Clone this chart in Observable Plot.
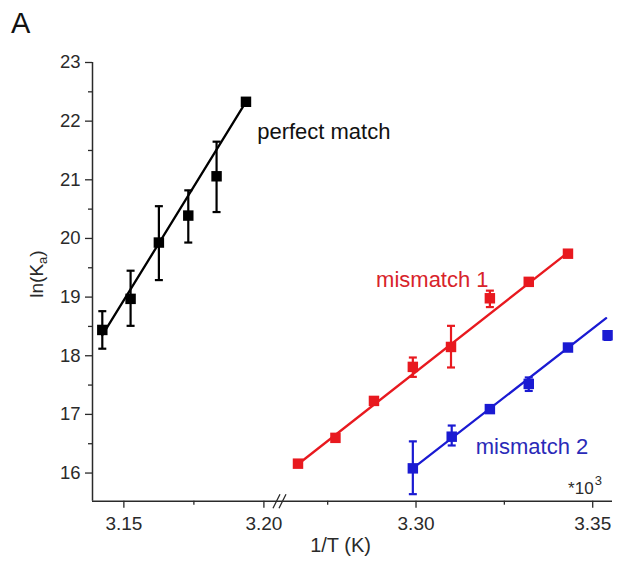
<!DOCTYPE html>
<html><head><meta charset="utf-8">
<script src="https://cdn.jsdelivr.net/npm/d3@7"></script>
<script src="https://cdn.jsdelivr.net/npm/@observablehq/plot@0.6"></script>
<style>
body{margin:0;background:#fff;font-family:"Liberation Sans",Arial,sans-serif;}
#wrap{position:relative;width:627px;height:563px;}
#wrap svg{position:absolute;left:0;top:0;}
#panel{position:absolute;left:11px;top:9px;font-size:29px;color:#111;z-index:2;line-height:1;}
</style></head><body>
<div id="wrap"><div id="panel">A</div></div>
<script>
// ---- data ----
const perfectX  = [3.1423, 3.1524, 3.1625, 3.1730, 3.1831, 3.1936];
const perfectY  = [18.44, 18.97, 19.93, 20.39, 21.06, 22.33];
const perfectLo = [18.12, 18.51, 19.29, 19.93, 20.45, null];
const perfectHi = [18.76, 19.45, 20.55, 20.82, 21.65, null];
const perfectFitX = [3.1423, 3.1936];
const perfectFitY = [18.35, 22.33];

const mm1X  = [3.2666, 3.2772, 3.2881, 3.2991, 3.3099, 3.3209, 3.3319, 3.3430];
const mm1Y  = [16.16, 16.60, 17.23, 17.81, 18.15, 18.98, 19.26, 19.74];
const mm1Lo = [null, null, null, 17.64, 17.80, 18.83, null, null];
const mm1Hi = [null, null, null, 17.97, 18.51, 19.11, null, null];
const mm1FitX = [3.2666, 3.3430];
const mm1FitY = [16.15, 19.76];

const mm2X  = [3.2991, 3.3101, 3.3209, 3.3319, 3.3430, 3.3542];
const mm2Y  = [16.08, 16.62, 17.09, 17.52, 18.14, 18.35];
const mm2Lo = [15.64, 16.47, null, 17.40, null, 18.27];
const mm2Hi = [16.54, 16.81, null, 17.63, null, 18.42];
const mm2FitX = [3.2991, 3.3538];
const mm2FitY = [16.08, 18.64];

const seriesNames  = ["perfect match", "mismatch 1", "mismatch 2"];
const seriesColors = ["#000000", "#e8191f", "#1a1ad2"];
const labelColors  = ["#111111", "#d8232a", "#2a2ab8"];
const labelX = [3.1976, 3.2887, 3.3169];
const labelY = [21.81, 19.30, 16.44];

const xMajorTicks = [3.15, 3.20, 3.30, 3.35];
const xMinorTicks = [3.175, 3.275, 3.325];
const yMajorTicks = [16, 17, 18, 19, 20, 21, 22, 23];
const yMinorTicks = [16.5, 17.5, 18.5, 19.5, 20.5, 21.5, 22.5];

// broken x axis: two linear pieces
const xDomain = [3.1388, 3.2045, 3.2625, 3.3556];
const xRange  = [92, 276, 283, 612];
const yDomain = [15.52, 23];
const axisBreak = 3.2045;

// ---- build tables ----
function rows(xs, ys, lo, hi, s) {
  return xs.map((x, i) => ({x, y: ys[i], lo: lo[i], hi: hi[i], s}));
}
const pts = [
  ...rows(perfectX, perfectY, perfectLo, perfectHi, seriesNames[0]),
  ...rows(mm1X, mm1Y, mm1Lo, mm1Hi, seriesNames[1]),
  ...rows(mm2X, mm2Y, mm2Lo, mm2Hi, seriesNames[2])
];
const errs = pts.filter(d => d.lo != null);
const caps = errs.flatMap(d => [{x: d.x, y: d.lo, s: d.s}, {x: d.x, y: d.hi, s: d.s}]);
const fits = [
  ...perfectFitX.map((x, i) => ({x, y: perfectFitY[i], s: seriesNames[0]})),
  ...mm1FitX.map((x, i) => ({x, y: mm1FitY[i], s: seriesNames[1]})),
  ...mm2FitX.map((x, i) => ({x, y: mm2FitY[i], s: seriesNames[2]}))
];
const labels = seriesNames.map((t, i) => ({t, x: labelX[i], y: labelY[i], c: labelColors[i]}));
const colorOf = s => seriesColors[seriesNames.indexOf(s)];

const capSymbol = {draw(ctx, size) { const r = Math.sqrt(size / Math.PI); ctx.moveTo(-r, 0); ctx.lineTo(r, 0); }};
const breakSymbol = {draw(ctx) { ctx.moveTo(-7, 7); ctx.lineTo(0, -7); ctx.moveTo(-1, 7); ctx.lineTo(6, -7); }};

const axisColor = "#2a2a2a";

const chart = Plot.plot({
  width: 627,
  height: 563,
  marginLeft: 92,
  marginRight: 15,
  marginTop: 62,
  marginBottom: 62.3,
  style: {fontFamily: "'Liberation Sans', Arial, sans-serif", fontSize: "19px", color: axisColor, background: "transparent"},
  x: {type: "linear", domain: xDomain, range: xRange},
  y: {domain: yDomain},
  marks: [
    Plot.ruleY([yDomain[0]], {stroke: axisColor, strokeWidth: 1.5}),
    Plot.ruleX([xDomain[0]], {stroke: axisColor, strokeWidth: 1.5}),
    Plot.axisX({ticks: xMajorTicks, tickSize: 7, tickPadding: 8, tickFormat: d => d.toFixed(2), fontSize: 19, label: null, strokeWidth: 1.3}),
    Plot.axisX({ticks: xMinorTicks, tickSize: 4, tickFormat: () => "", label: null, strokeWidth: 1.3}),
    Plot.axisY({ticks: yMajorTicks, tickSize: 7, tickPadding: 5, tickFormat: d => String(d), fontSize: 18.5, label: null, strokeWidth: 1.3}),
    Plot.axisY({ticks: yMinorTicks, tickSize: 4, tickFormat: () => "", label: null, strokeWidth: 1.3}),
    Plot.dot([{x: axisBreak, y: yDomain[0]}], {x: "x", y: "y", symbol: breakSymbol, dx: 3.5, fill: "none", stroke: axisColor, strokeWidth: 1.3}),
    Plot.line(fits, {x: "x", y: "y", z: "s", stroke: d => colorOf(d.s), strokeWidth: 2.3}),
    Plot.ruleX(errs, {x: "x", y1: "lo", y2: "hi", stroke: d => colorOf(d.s), strokeWidth: 2.2}),
    Plot.dot(caps, {x: "x", y: "y", symbol: capSymbol, r: 4, fill: "none", stroke: d => colorOf(d.s), strokeWidth: 2.2}),
    Plot.dot(pts, {x: "x", y: "y", symbol: "square", r: 5.9, fill: d => colorOf(d.s), stroke: "none"}),
    Plot.text(labels, {x: "x", y: "y", text: "t", fill: "c", textAnchor: "start", fontSize: 22}),
    Plot.text(["1/T (K)"], {frameAnchor: "bottom", dx: -12, dy: 51, fontSize: 20, fill: axisColor})
  ]
});

const svg = d3.select(chart);
// y axis label with subscript
const yl = svg.append("text")
  .attr("transform", "translate(43,274) rotate(-90)")
  .attr("text-anchor", "middle")
  .attr("font-size", 19)
  .attr("fill", axisColor);
yl.append("tspan").text("ln(K");
yl.append("tspan").attr("font-size", 13).attr("dy", 4).text("a");
yl.append("tspan").attr("dy", -4).text(")");
// *10^3 multiplier
const m = svg.append("text")
  .attr("x", 585).attr("y", 494)
  .attr("font-size", 17)
  .attr("fill", axisColor);
m.append("tspan").text("*10");
m.append("tspan").attr("font-size", 13).attr("dx", 1).attr("dy", -9).text("3");

document.getElementById("wrap").appendChild(chart);
</script>
</body></html>
